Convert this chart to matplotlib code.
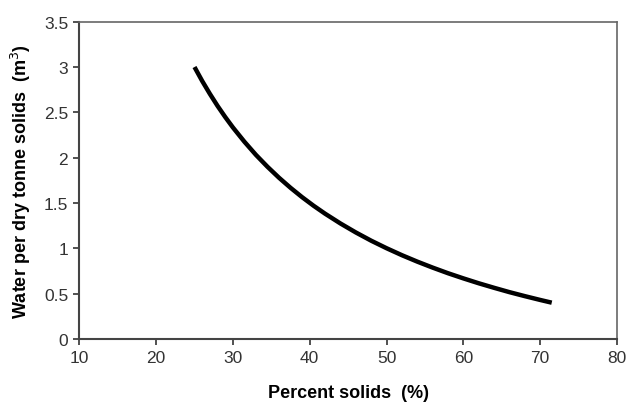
import numpy as np
import matplotlib
import matplotlib.pyplot as plt

matplotlib.rcParams['font.family'] = 'Liberation Sans'

# values
percent_solids = [25, 26, 27, 28, 29, 30, 31.5, 33, 34.5, 36, 37.5, 39, 40.5, 42, 44,
                  46, 48, 50, 52, 54, 56, 58, 60, 62, 64, 66, 68, 70, 71.5]
water_per_tonne = [3.0, 2.846, 2.704, 2.571, 2.448, 2.333, 2.175, 2.030, 1.899, 1.778,
                   1.667, 1.564, 1.469, 1.381, 1.273, 1.174, 1.083, 1.000, 0.923,
                   0.852, 0.786, 0.724, 0.667, 0.613, 0.563, 0.515, 0.471, 0.429, 0.399]

xticks = [10, 20, 30, 40, 50, 60, 70, 80]
yticks = [0, 0.5, 1, 1.5, 2, 2.5, 3, 3.5]
yticklabels = ['0', '0.5', '1', '1.5', '2', '2.5', '3', '3.5']

fig = plt.figure(figsize=(6.29, 4.06), dpi=100)
ax = fig.add_axes([0.126, 0.163, 0.855, 0.781])

ax.plot(percent_solids, water_per_tonne, color='black', lw=3.2,
        solid_capstyle='butt', solid_joinstyle='round')

ax.set_xlim(10, 80)
ax.set_ylim(0, 3.5)
ax.set_xticks(xticks)
ax.set_yticks(yticks)
ax.set_yticklabels(yticklabels)
ax.tick_params(labelsize=12.5, colors='#333333', direction='out', length=4, width=1.2, pad=4)

for side in ['left', 'bottom']:
    ax.spines[side].set_color('#444444')
    ax.spines[side].set_linewidth(1.5)
for side in ['top', 'right']:
    ax.spines[side].set_color('#666666')
    ax.spines[side].set_linewidth(1.2)

ax.set_xlabel('Percent solids  (%)', fontsize=13, fontweight='bold', labelpad=14)
ax.set_ylabel('Water per dry tonne solids  (m$^3$)', fontsize=13, fontweight='bold', labelpad=8)

plt.savefig('out.png', dpi=100)
